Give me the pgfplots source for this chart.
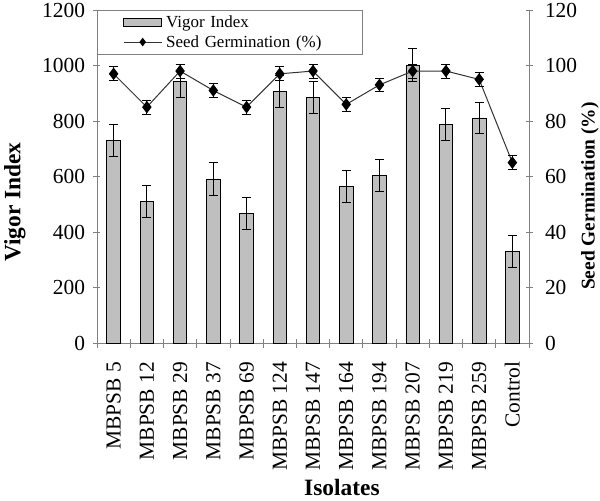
\documentclass[border=0pt]{standalone}
\usepackage{fontspec}
\setmainfont{Liberation Serif}
\usepackage{pgfplots}
\usepackage{pgfplotstable}
\pgfplotsset{compat=1.18}

\definecolor{barfill}{RGB}{191,191,191}
\definecolor{axgray}{RGB}{128,128,128}
\definecolor{linegray}{RGB}{50,50,50}

% vigor index and germination, with error bars
\pgfplotstableread{
x vigor verr germ gerr
0 729 57 97 2.5
1 509 58 85 2.5
2 944 58 98 2.5
3 591 58 91 2.5
4 468 58 85 2.5
5 906 58 97 2.5
6 886 58 98 2.5
7 563 58 86 2.5
8 605 58 93 2.5
9 1002 58 98 2.5
10 787 57 98 2.5
11 811 57 95 2.5
12 329 57 65 2.5
}\datatable

\pgfplotsset{base/.style={
    scale only axis, width=432bp, height=333bp,
    xmin=-0.5, xmax=12.5,
    axis line style={axgray, line width=0.8pt},
    tick style={axgray, line width=0.8pt},
    tick align=center,
    major tick length=7bp,
    ticklabel style={font=\fontsize{21.5}{24}\selectfont},
    /pgf/number format/assume math mode=true,
    /pgf/number format/1000 sep={},
    scaled y ticks=false,
    clip=false,
  },
  linelegend/.style={legend image code/.code={
      \draw[mark repeat=2, mark phase=2, ##1, mark size=3.5bp]
        plot coordinates {(0bp,0bp) (19bp,0bp) (38bp,0bp)};}},
  barlegend/.style={legend image code/.code={
      \draw[fill=barfill, draw=black, line width=0.8pt] (0bp,-4bp) rectangle (38bp,4bp);}},
}

\begin{document}
\begin{tikzpicture}
\begin{axis}[base, name=ax,
    axis x line*=bottom, axis y line*=left,
    ymin=0, ymax=1200, ytick={0,200,...,1200},
    yticklabel style={xshift=-5bp},
    xtick={0,...,12},
    xticklabels={MBPSB 5, MBPSB 12, MBPSB 29, MBPSB 37, MBPSB 69, MBPSB 124,
      MBPSB 147, MBPSB 164, MBPSB 194, MBPSB 207, MBPSB 219, MBPSB 259, Control},
    x tick label style={yshift=-12bp, rotate=90, anchor=east},
    major x tick style={draw=none},
    minor xtick={-0.5,0.5,...,12.5},
    minor tick length=9bp,
    minor x tick style={axgray, line width=0.8pt},
    ylabel={Vigor Index},
    every axis y label/.style={at={(axis description cs:-0.19,0.423)},
      rotate=90, anchor=center, font=\bfseries\fontsize{23.5}{26}\selectfont},
    xlabel={Isolates},
    every axis x label/.style={at={(axis description cs:0.567,-0.435)},
      anchor=center, font=\bfseries\fontsize{23.5}{26}\selectfont},
]
\addplot[ybar, bar width=13.5bp, fill=barfill, draw=black, line width=0.8pt,
    error bars/.cd, y dir=both, y explicit,
    error bar style={black, line width=0.9pt},
    error mark options={rotate=90, mark size=4.5bp, black, line width=0.9pt}]
    table[x=x, y=vigor, y error=verr] {\datatable};
\end{axis}

\begin{axis}[base, at={(ax.south west)}, anchor=south west,
    axis x line=none, axis y line*=right,
    ymin=0, ymax=120, ytick={0,20,...,120},
    yticklabel style={xshift=9bp},
    legend style={at={(0,1)}, anchor=north west, draw=axgray, fill=white,
      font=\fontsize{17}{19}\selectfont, inner xsep=26bp, inner ysep=3bp,
      row sep=0bp, cells={anchor=west},
      nodes={text width=166bp, inner xsep=4bp, inner ysep=3bp}},
]
\addlegendimage{barlegend}
\addlegendentry{Vigor Index}
\addplot[linegray, line width=1pt, mark=diamond*, mark size=5.5bp,
    mark options={fill=black, draw=black, solid}, linelegend,
    error bars/.cd, y dir=both, y explicit,
    error bar style={black, line width=0.8pt},
    error mark options={rotate=90, mark size=4.5bp, black, line width=0.8pt}]
    table[x=x, y=germ, y error=gerr] {\datatable};
\addlegendentry{Seed Germination (\%)}
\end{axis}

% right axis title
\path (ax.south west) ++(493bp,147bp)
  node[rotate=90, anchor=center, font=\bfseries\fontsize{19.5}{22}\selectfont]
  {Seed Germination (\%)};

\pgfresetboundingbox
\path[use as bounding box] (ax.south west) ++(-97bp,-158bp) rectangle ++(600bp,501bp);
\end{tikzpicture}
\end{document}
